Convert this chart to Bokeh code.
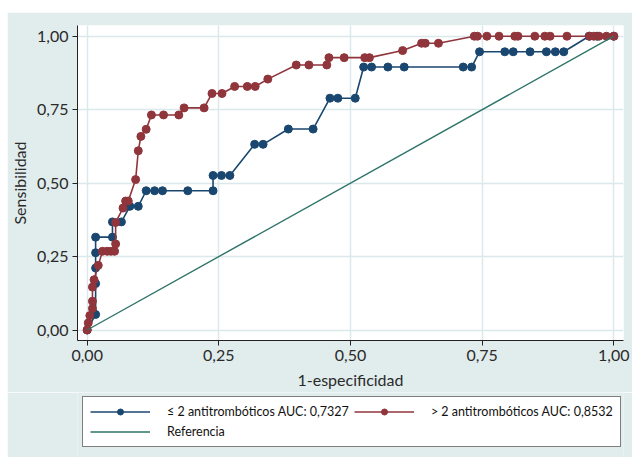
from bokeh.plotting import figure
from bokeh.models import Range1d, FixedTicker, Legend, LegendItem, Spacer
from bokeh.layouts import column, row
from bokeh.embed import file_html
from bokeh.resources import INLINE

# ---- data ----
tick_values = [0, 0.25, 0.5, 0.75, 1.0]
tick_labels = ["0,00", "0,25", "0,50", "0,75", "1,00"]

low_x = [0, 0.016, 0.016, 0.016, 0.016, 0.016, 0.048, 0.048, 0.065, 0.081,
         0.097, 0.112, 0.128, 0.143, 0.191, 0.239, 0.239, 0.255, 0.271, 0.318,
         0.334, 0.382, 0.429, 0.461, 0.476, 0.509, 0.525, 0.540, 0.571, 0.602,
         0.714, 0.730, 0.745, 0.793, 0.809, 0.841, 0.872, 0.889, 0.905, 0.953,
         0.968, 1.0]
low_y = [0, 0.053, 0.158, 0.211, 0.263, 0.316, 0.316, 0.368, 0.368, 0.421,
         0.421, 0.474, 0.474, 0.474, 0.474, 0.474, 0.526, 0.526, 0.526, 0.632,
         0.632, 0.684, 0.684, 0.789, 0.789, 0.789, 0.895, 0.895, 0.895, 0.895,
         0.895, 0.895, 0.947, 0.947, 0.947, 0.947, 0.947, 0.947, 0.947, 1.0,
         1.0, 1.0]

high_x = [0, 0.002, 0.005, 0.010, 0.010, 0.010, 0.013, 0.021, 0.029, 0.038,
          0.045, 0.052, 0.054, 0.054, 0.068, 0.073, 0.078, 0.092, 0.097, 0.102,
          0.112, 0.122, 0.145, 0.174, 0.184, 0.222, 0.237, 0.256, 0.280, 0.304,
          0.319, 0.343, 0.397, 0.421, 0.455, 0.459, 0.488, 0.527, 0.536, 0.599,
          0.635, 0.642, 0.667, 0.735, 0.741, 0.759, 0.782, 0.812, 0.818, 0.850,
          0.869, 0.879, 0.911, 0.954, 0.962, 0.972, 0.986, 1.0]
high_y = [0, 0.024, 0.049, 0.073, 0.098, 0.146, 0.171, 0.220, 0.268, 0.268,
          0.268, 0.268, 0.293, 0.366, 0.415, 0.439, 0.439, 0.512, 0.610, 0.659,
          0.683, 0.732, 0.732, 0.732, 0.756, 0.756, 0.805, 0.805, 0.829, 0.829,
          0.829, 0.854, 0.902, 0.902, 0.902, 0.927, 0.927, 0.927, 0.927, 0.951,
          0.976, 0.976, 0.976, 1.0, 1.0, 1.0, 1.0, 1.0, 1.0, 1.0,
          1.0, 1.0, 1.0, 1.0, 1.0, 1.0, 1.0, 1.0]

ref_x = [0, 1]
ref_y = [0, 1]

label_low = "≤ 2 antitrombóticos AUC: 0,7327"
label_high = "> 2 antitrombóticos AUC: 0,8532"
label_ref = "Referencia"

# ---- styling ----
BG = "#e1ecec"
GRID = "#dbe8ec"
BLUE = "#1a476f"
RED = "#90353b"
GREEN = "#2e7468"
FONT = "Lato"
TXT = "#2a2a2a"

p = figure(width=625, height=380,
           x_range=Range1d(-0.0184, 1.0184), y_range=Range1d(-0.0357, 1.0364),
           output_backend="svg", toolbar_location=None,
           min_border_left=69, min_border_right=9, min_border_top=13,
           min_border_bottom=52,
           background_fill_color="white", border_fill_color=BG,
           outline_line_color=None)

for ax in (p.xaxis[0], p.yaxis[0]):
    ax.ticker = FixedTicker(ticks=tick_values)
    ax.major_label_overrides = {v: t for v, t in zip(tick_values, tick_labels)}
    ax.axis_line_color = "#222222"
    ax.axis_line_width = 1
    ax.major_tick_line_color = "#222222"
    ax.major_tick_out = 5
    ax.major_tick_in = 0
    ax.minor_tick_line_color = None
    ax.major_label_text_font = FONT
    ax.major_label_text_font_size = "16px"
    ax.major_label_text_color = TXT
    ax.axis_label_text_font = FONT
    ax.axis_label_text_font_size = "16px"
    ax.axis_label_text_font_style = "normal"
    ax.axis_label_text_color = TXT
    ax.major_label_standoff = 4
    ax.axis_label_standoff = 6

p.yaxis.axis_label_standoff = 5
p.xaxis.axis_label = "1-especificidad"
p.yaxis.axis_label = "Sensibilidad"
p.yaxis.major_label_orientation = "horizontal"

p.xgrid.grid_line_color = GRID
p.ygrid.grid_line_color = GRID
p.xgrid.grid_line_width = 1.5
p.ygrid.grid_line_width = 1.5

p.line(low_x, low_y, line_color=BLUE, line_width=1.6)
p.scatter(low_x, low_y, size=8, fill_color=BLUE, line_color=BLUE)
p.line(high_x, high_y, line_color=RED, line_width=1.6)
p.scatter(high_x, high_y, size=8, fill_color=RED, line_color=RED)
p.line(ref_x, ref_y, line_color=GREEN, line_width=1.4)

# ---- legend strip below the plot, same background ----
q = figure(width=625, height=65, x_range=Range1d(10, 11), y_range=Range1d(10, 11),
           output_backend="svg", toolbar_location=None,
           x_axis_type=None, y_axis_type=None,
           min_border_left=69, min_border_right=9, min_border_top=0,
           min_border_bottom=0,
           background_fill_color=BG, border_fill_color=BG,
           outline_line_color=None)
q.xgrid.visible = False
q.ygrid.visible = False
# legend swatch renderers (their single point lies outside this strip's view)
k1 = q.line(low_x[:1], low_y[:1], line_color=BLUE, line_width=1.6)
m1 = q.scatter(low_x[:1], low_y[:1], size=8, fill_color=BLUE, line_color=BLUE)
k2 = q.line(high_x[:1], high_y[:1], line_color=RED, line_width=1.6)
m2 = q.scatter(high_x[:1], high_y[:1], size=8, fill_color=RED, line_color=RED)
k3 = q.line(ref_x[:1], ref_y[:1], line_color=GREEN, line_width=1.4)

# column-major filling: column 1 = low, ref; column 2 = high
legend = Legend(items=[
    LegendItem(label=label_low, renderers=[k1, m1]),
    LegendItem(label=label_ref, renderers=[k3]),
    LegendItem(label=label_high, renderers=[k2, m2]),
], ncols=2, location=(5, 10))
legend.label_text_font = FONT
legend.label_text_font_size = "12.5px"
legend.label_text_color = "#111111"
legend.glyph_width = 60
legend.glyph_height = 15
legend.label_height = 15
legend.label_standoff = 17
legend.spacing = 5
legend.padding = 7
legend.margin = 0
legend.border_line_color = "black"
legend.border_line_width = 1
legend.background_fill_color = "white"
legend.background_fill_alpha = 1
q.add_layout(legend)

layout = row(Spacer(width=7, height=457),
             column(Spacer(width=625, height=12), p, q))
open("out.html", "w").write(file_html(layout, INLINE))
